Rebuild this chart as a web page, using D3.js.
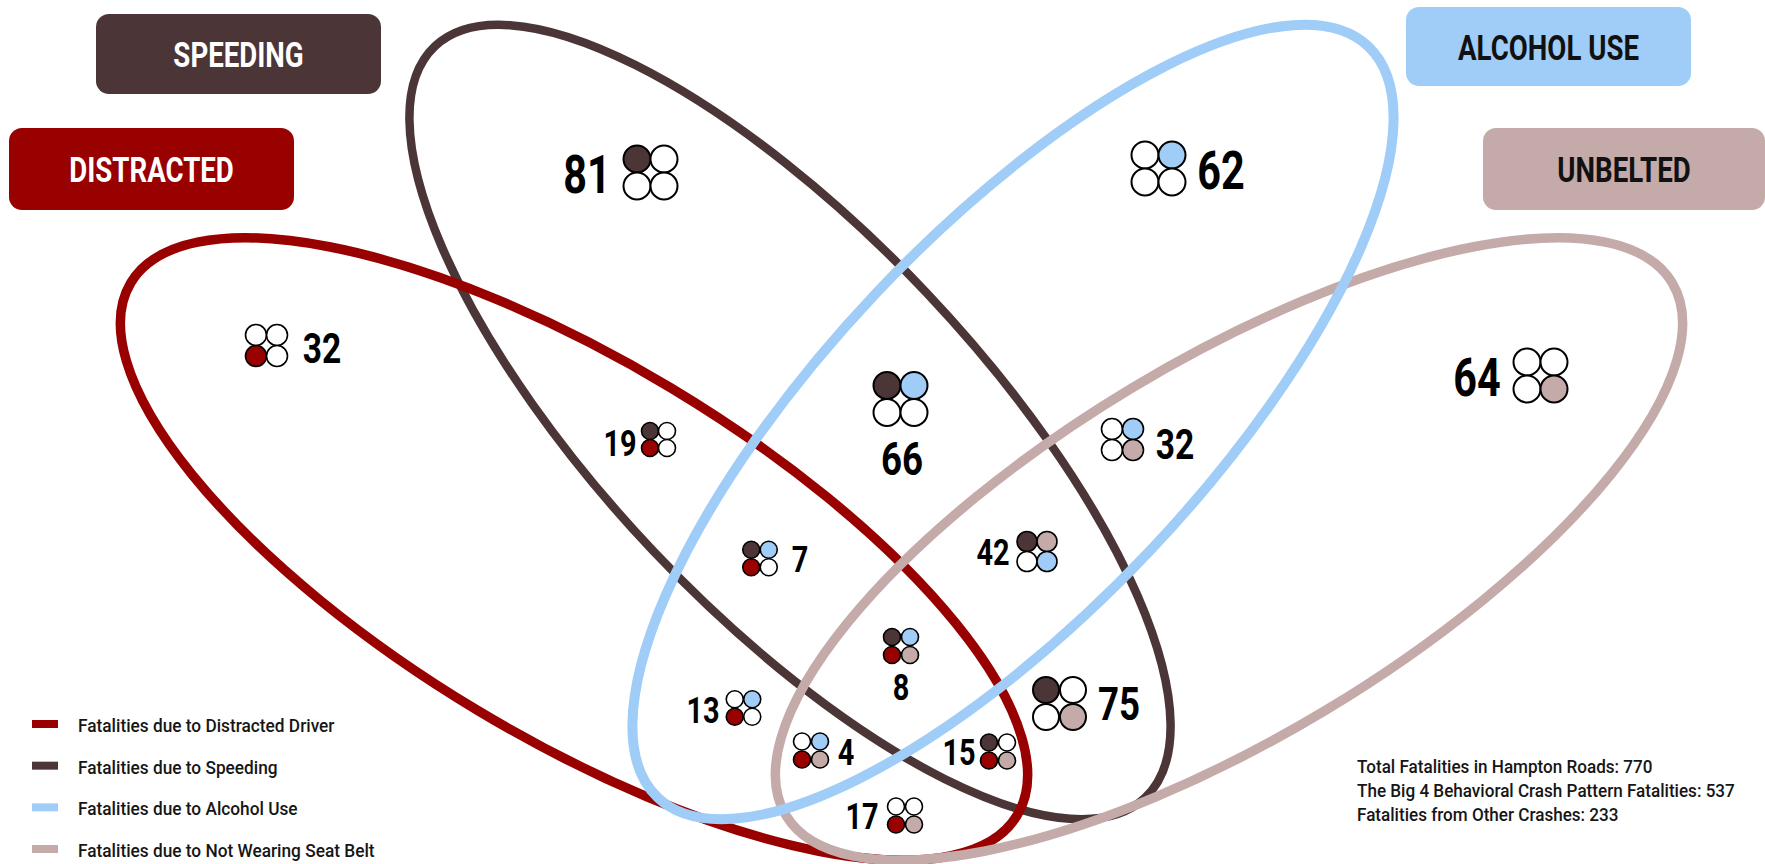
<!DOCTYPE html>
<html>
<head>
<meta charset="utf-8">
<title>Big 4 Behavioral Crash Patterns in Hampton Roads</title>
<script src="https://cdnjs.cloudflare.com/ajax/libs/d3/7.9.0/d3.min.js"></script>
<style>
html,body{margin:0;padding:0;background:#fff;}
svg{display:block;}
text{font-family:"Roboto","Liberation Sans",sans-serif;}
</style>
</head>
<body>
<svg id="chart" width="1765" height="864"></svg>
<script>
// Fatality counts for each region of the four-set diagram.
const regionCounts = [81, 62, 32, 64, 66, 19, 32, 7, 42, 8, 75, 13, 4, 15, 17];
// Which behaviours each region combines, slot order: top-left, top-right, bottom-left, bottom-right.
const regionMembers = ["S---", "-A--", "--D-", "---U", "SA--", "S-D-", "-A-U", "SAD-", "SU-A", "SADU", "S--U", "-AD-", "-ADU", "S-DU", "--DU"];

const setCodes = ["S", "D", "U", "A"];
const setNames = ["SPEEDING", "DISTRACTED", "UNBELTED", "ALCOHOL USE"];
const setColors = ["#4b3536", "#990000", "#c5aaaa", "#9fcdf7"];

const legendOrder = ["D", "S", "A", "U"];
const legendLabels = [
  "Fatalities due to Distracted Driver",
  "Fatalities due to Speeding",
  "Fatalities due to Alcohol Use",
  "Fatalities due to Not Wearing Seat Belt"
];
const noteLines = [
  "Total Fatalities in Hampton Roads: 770",
  "The Big 4 Behavioral Crash Pattern Fatalities: 537",
  "Fatalities from Other Crashes: 233"
];

// Four congruent ellipses, one per behaviour, stacked in drawing order.
const ellipseCx = [790, 574, 1229, 1013];
const ellipseCy = [422, 549, 549, 422];
const ellipseAngle = [46.6, 31, -31, -46.6];
const ellipseStroke = [8.5, 9.5, 9.5, 10];
const ellipseRx = 517;
const ellipseRy = 188;

// Page layout: region number position and icon cluster placement.
const regionNumberX = [587, 1221, 322, 1477, 902, 620, 1175, 800, 993, 901, 1119, 703, 846, 959, 862];
const regionBaseline = [193, 189, 363, 396, 475, 456, 459, 572, 565, 700, 720, 723, 765, 765, 829];
const regionFontSize = [53, 53, 43, 53, 47, 37, 43, 37, 37, 37, 47, 37, 37, 37, 37];
const clusterX = [650.5, 1158.5, 266.5, 1540.5, 900.5, 658.5, 1122.5, 760, 1037, 901, 1059.5, 743.5, 811, 998, 905];
const clusterY = [172.5, 168.5, 345.5, 375.5, 399, 439.5, 439.5, 558.5, 551.5, 646, 703.5, 708, 750.5, 751.5, 815.5];
const clusterGap = [27, 27, 21, 27, 27, 17, 21, 17.5, 20, 18, 27, 17.5, 18, 18, 18];
const clusterRadius = [13.5, 13.5, 10.5, 13.5, 13.5, 8.5, 10.5, 8.5, 10, 8.5, 13, 8.5, 8.5, 8.5, 8.5];

const boxX = [96, 9, 1483, 1406];
const boxY = [14, 128, 128, 7];
const boxW = [285, 285, 282, 285];
const boxH = [80, 82, 82, 79];

const svg = d3.select("#chart");
const color = d3.scaleOrdinal(setCodes, setColors);

// Roboto is condensed horizontally so the lettering reads as a narrow face.
function condensedAt(sel, x, y, k) {
  sel.attr("transform", (d, i) => `translate(${x(d, i)},${y(d, i)}) scale(${k},1)`);
}

svg.append("g").selectAll("ellipse").data(setCodes).join("ellipse")
  .attr("rx", ellipseRx).attr("ry", ellipseRy)
  .attr("transform", (d, i) => `translate(${ellipseCx[i]},${ellipseCy[i]}) rotate(${ellipseAngle[i]})`)
  .attr("fill", "none")
  .attr("stroke", d => color(d))
  .attr("stroke-width", (d, i) => ellipseStroke[i]);

// Named boxes for the four behaviours.
const boxes = svg.append("g").selectAll("g").data(setCodes).join("g");
boxes.append("rect")
  .attr("x", (d, i) => boxX[i]).attr("y", (d, i) => boxY[i])
  .attr("width", (d, i) => boxW[i]).attr("height", (d, i) => boxH[i])
  .attr("rx", 13)
  .attr("fill", d => color(d));
boxes.append("text")
  .call(condensedAt, (d, i) => boxX[i] + boxW[i] / 2, (d, i) => boxY[i] + boxH[i] / 2 + 13, 0.79)
  .attr("text-anchor", "middle")
  .attr("font-size", 35).attr("font-weight", 700)
  .attr("fill", d => (d === "S" || d === "D") ? "#ffffff" : "#111111")
  .text((d, i) => setNames[i]);

// One group per region: its count and the four-circle membership icon.
const regions = svg.append("g").selectAll("g").data(regionCounts).join("g");
regions.append("text")
  .call(condensedAt, (d, i) => regionNumberX[i], (d, i) => regionBaseline[i], 0.78)
  .attr("text-anchor", "middle")
  .attr("font-size", (d, i) => regionFontSize[i]).attr("font-weight", 700)
  .attr("fill", "#000")
  .text(d => d);
regions.each(function (d, i) {
  const slots = regionMembers[i].split("");
  d3.select(this).selectAll("circle").data(slots).join("circle")
    .attr("cx", (s, k) => clusterX[i] + (k % 2 ? 0.5 : -0.5) * clusterGap[i])
    .attr("cy", (s, k) => clusterY[i] + (k < 2 ? -0.5 : 0.5) * clusterGap[i])
    .attr("r", clusterRadius[i])
    .attr("fill", s => s === "-" ? "#ffffff" : color(s))
    .attr("stroke", "#000")
    .attr("stroke-width", clusterRadius[i] > 12 ? 2 : 1.6);
});

// Legend at the lower left.
const legendY = d3.scalePoint().domain(legendOrder).range([724, 849]);
const legend = svg.append("g").selectAll("g").data(legendOrder).join("g");
legend.append("line")
  .attr("x1", 32).attr("x2", 58)
  .attr("y1", d => legendY(d)).attr("y2", d => legendY(d))
  .attr("stroke", d => color(d)).attr("stroke-width", 8);
legend.append("text")
  .call(condensedAt, () => 78, d => legendY(d) + 8, 0.96)
  .attr("font-size", 18).attr("font-weight", 500).attr("fill", "#161616")
  .text((d, i) => legendLabels[i]);

// Totals note at the lower right.
svg.append("g").selectAll("text").data(noteLines).join("text")
  .call(condensedAt, () => 1357, (d, i) => 773 + i * 24, 0.9)
  .attr("font-size", 19).attr("font-weight", 500).attr("fill", "#161616")
  .text(d => d);
</script>
</body>
</html>
